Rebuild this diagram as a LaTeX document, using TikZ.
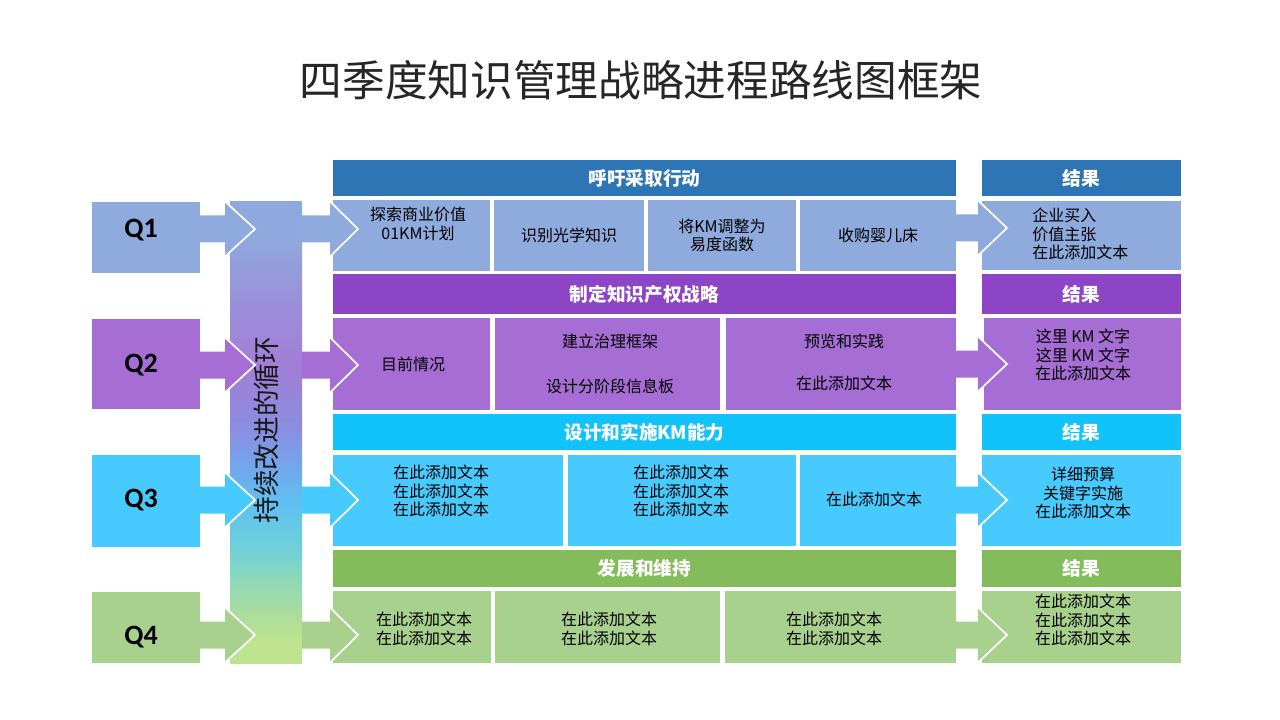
\documentclass[tikz,border=0pt]{standalone}
\usepackage{fontspec}
\setmainfont{Noto Sans CJK SC}
\newfontfamily\qfont{Carlito}
\definecolor{hA}{HTML}{2E75B6}
\definecolor{lA}{HTML}{8FAADC}
\definecolor{hB}{HTML}{8B45C5}
\definecolor{lB}{HTML}{A66DD4}
\definecolor{hC}{HTML}{12C2FA}
\definecolor{lC}{HTML}{47CBFF}
\definecolor{hD}{HTML}{84BC5C}
\definecolor{lD}{HTML}{A9D18E}
\definecolor{g0}{HTML}{BDE38E}
\definecolor{g1}{HTML}{A8DCA0}
\definecolor{g2}{HTML}{8ED8B8}
\definecolor{g3}{HTML}{70D0D8}
\definecolor{g4}{HTML}{5EC0F2}
\definecolor{g5}{HTML}{70A8EC}
\definecolor{g6}{HTML}{8A8EE0}
\definecolor{g7}{HTML}{A27ED6}
\definecolor{g8}{HTML}{9A90DA}
\definecolor{g9}{HTML}{8FA8DD}
\pgfdeclareverticalshading{barshade}{100bp}{color(0bp)=(g0); color(27.5bp)=(g0); color(30.75bp)=(g1); color(34bp)=(g2); color(37.25bp)=(g3); color(42.5bp)=(g4); color(46bp)=(g5); color(50.25bp)=(g6); color(57.3bp)=(g7); color(64.35bp)=(g8); color(70.85bp)=(g9); color(100bp)=(g9)}
\newcommand\mybox[7]{\node[cellbox,#6,minimum width={(#4-#2)*0.75pt},minimum height={(#5-#3)*0.75pt}] (#1) at ({(#2+#4)/2},{(#3+#5)/2}) {#7};}
\newcommand\myarrow[5]{%
  \fill[#5] ({#1},{#4-13.5}) -- ({#2},{#4-13.5}) -- ({#2},{#4-27.5}) -- ({#3},{#4}) -- ({#2},{#4+27.5}) -- ({#2},{#4+13.5}) -- ({#1},{#4+13.5}) -- cycle;
  \draw[white,line width=1.3pt] ({#2},{#4-27.5}) -- ({#3},{#4}) -- ({#2},{#4+27.5});}
\begin{document}
\begin{tikzpicture}[x=0.75pt,y=-0.75pt,
  cellbox/.style={rectangle,draw=none,inner sep=0pt,outer sep=0pt,align=center},
  body/.style={font=\fontsize{12}{14}\selectfont,text=black,align=center,inner sep=0pt},
  head/.style={font=\bfseries\fontsize{14}{16}\selectfont,text=white},
  qlab/.style={font=\qfont\bfseries\fontsize{21}{24}\selectfont,text=black,inner sep=0pt}]
\useasboundingbox (0,0) rectangle (1280,720);
\fill[white] (0,0) rectangle (1280,720);
\node[font=\fontsize{32}{36}\selectfont,text=black!85] (title) at (641,80) {四季度知识管理战略进程路线图框架};
% Q boxes
\mybox{q1}{92}{202}{200}{273}{fill=lA}{}
\mybox{q2}{92}{319}{200}{409}{fill=lB}{}
\mybox{q3}{92}{455}{200}{547}{fill=lC}{}
\mybox{q4}{92}{592}{200}{663}{fill=lD}{}
\node[qlab] (q1t) at (141,230) {Q1};
\node[qlab] (q2t) at (141,365) {Q2};
\node[qlab] (q3t) at (141,500) {Q3};
\node[qlab] (q4t) at (141,637) {Q4};
% Row 1
\mybox{h1}{333}{160}{956}{196}{fill=hA,head}{呼吁采取行动}
\mybox{r1h}{982}{160}{1181}{196}{fill=hA,head}{结果}
\mybox{c11}{333}{200}{490}{271}{fill=lA}{}
\mybox{c12}{494}{200}{644}{271}{fill=lA,body}{识别光学知识}
\mybox{c13}{648}{200}{796}{271}{fill=lA,body}{将KM调整为\\易度函数}
\mybox{c14}{800}{200}{956}{271}{fill=lA,body}{收购婴儿床}
\mybox{r1}{982}{201}{1181}{270}{fill=lA}{}
% Row 2
\mybox{h2}{333}{274}{956}{314}{fill=hB,head}{制定知识产权战略}
\mybox{r2h}{982}{274}{1181}{314}{fill=hB,head}{结果}
\mybox{c21}{333}{318}{490}{410}{fill=lB}{}
\mybox{c22}{495}{318}{720}{410}{fill=lB}{}
\mybox{c23}{726}{318}{956}{410}{fill=lB}{}
\mybox{r2}{984}{318}{1181}{410}{fill=lB}{}
% Row 3
\mybox{h3}{333}{414}{956}{450}{fill=hC,head}{设计和实施KM能力}
\mybox{r3h}{982}{414}{1181}{450}{fill=hC,head}{结果}
\mybox{c31}{333}{455}{563}{546}{fill=lC}{}
\mybox{c32}{568}{455}{796}{546}{fill=lC}{}
\mybox{c33}{800}{455}{956}{546}{fill=lC}{}
\mybox{r3}{982}{455}{1181}{546}{fill=lC}{}
% Row 4
\mybox{h4}{333}{550}{956}{587}{fill=hD,head}{发展和维持}
\mybox{r4h}{982}{550}{1181}{587}{fill=hD,head}{结果}
\mybox{c41}{333}{591}{491}{663}{fill=lD}{}
\mybox{c42}{495}{591}{720}{663}{fill=lD}{}
\mybox{c43}{725}{591}{956}{663}{fill=lD}{}
\mybox{r4}{982}{591}{1181}{663}{fill=lD}{}
% vertical bar
\mybox{bar}{230}{202}{302}{663}{shade,shading=barshade}{}
% arrows
\myarrow{199}{225}{255}{229}{lA}
\myarrow{302}{330}{358}{229}{lA}
\myarrow{955}{978}{1007}{228}{lA}
\myarrow{199}{225}{255}{365}{lB}
\myarrow{302}{330}{358}{365}{lB}
\myarrow{955}{978}{1007}{364}{lB}
\myarrow{199}{225}{255}{500}{lC}
\myarrow{302}{330}{358}{500}{lC}
\myarrow{955}{978}{1007}{500}{lC}
\myarrow{199}{225}{255}{635}{lD}
\myarrow{302}{330}{358}{635}{lD}
\myarrow{955}{978}{1007}{635}{lD}
\node[rotate=90,font=\fontsize{20}{22}\selectfont,text=black!90] (bartext) at (266,430) {持续改进的循环};
% texts
\node[body] (t11) at (418,224) {探索商业价值\\01KM计划};
\node[body,align=left,anchor=west] (tr1) at (1032,234) {企业买入\\价值主张\\在此添加文本};
\node[body] (t21) at (413,364) {目前情况};
\node[body] (t22a) at (610,341) {建立治理框架};
\node[body] (t22b) at (610,386) {设计分阶段信息板};
\node[body] (t23a) at (844,341) {预览和实践};
\node[body] (t23b) at (844,383) {在此添加文本};
\node[body] (tr2) at (1083,355) {这里 KM 文字\\这里 KM 文字\\在此添加文本};
\node[body] (t31) at (441,491) {在此添加文本\\在此添加文本\\在此添加文本};
\node[body] (t32) at (681,491) {在此添加文本\\在此添加文本\\在此添加文本};
\node[body] (t33) at (874,499) {在此添加文本};
\node[body] (tr3) at (1083,493) {详细预算\\关键字实施\\在此添加文本};
\node[body] (t41) at (424,629) {在此添加文本\\在此添加文本};
\node[body] (t42) at (609,629) {在此添加文本\\在此添加文本};
\node[body] (t43) at (834,629) {在此添加文本\\在此添加文本};
\node[body] (tr4) at (1083,620) {在此添加文本\\在此添加文本\\在此添加文本};
\end{tikzpicture}
\end{document}
